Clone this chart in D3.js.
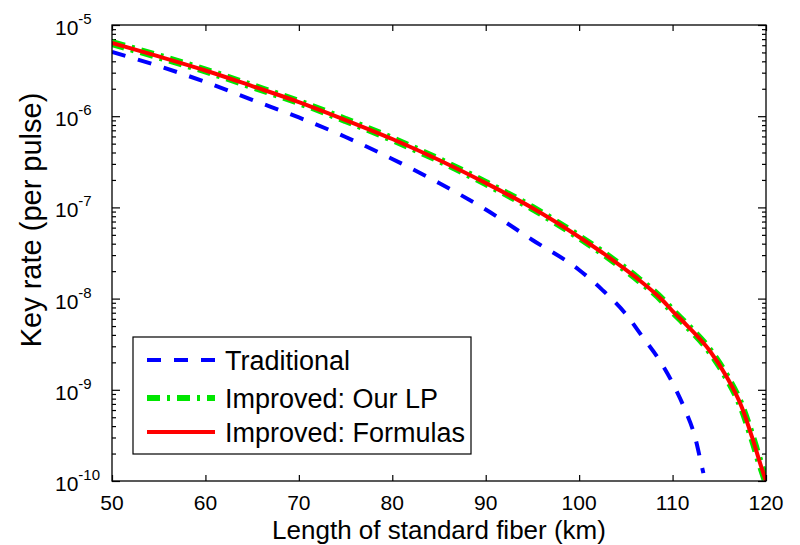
<!DOCTYPE html>
<html><head><meta charset="utf-8">
<script src="https://cdn.jsdelivr.net/npm/d3@7"></script>
<style>body{margin:0;background:#fff}svg{display:block}</style>
</head><body><svg id="c" width="800" height="545"></svg>
<script>
// ---- data ----
const xTicks = [50, 60, 70, 80, 90, 100, 110, 120];
const yExponents = [-5, -6, -7, -8, -9, -10];
const traditionalKm = [50, 55, 60, 65, 70, 75, 80, 85, 90, 95, 100, 102.5, 104.9, 106.8, 108.65, 110.05, 111.3, 112.4, 113.15, 113.3];
const traditionalRate = [5.06e-6, 3.55e-6, 2.37e-6, 1.51e-6, 9.68e-7, 5.92e-7, 3.40e-7, 1.85e-7, 9.48e-8, 4.39e-8, 2.06e-8, 1.24e-8, 6.95e-9, 3.79e-9, 2.07e-9, 1.16e-9, 6.16e-10, 3.04e-10, 1.42e-10, 1.22e-10];
const improvedKm = [50, 55, 60, 65, 70, 75, 80, 85, 90, 95, 100, 103, 106, 109, 110, 111.5, 114, 115.8, 117.4, 118.5, 119.5, 120];
const lpRate = [6.35e-6, 4.52e-6, 3.17e-6, 2.14e-6, 1.43e-6, 9.08e-7, 5.62e-7, 3.31e-7, 1.85e-7, 9.85e-8, 4.74e-8, 2.93e-8, 1.73e-8, 9.41e-9, 7.31e-9, 5.13e-9, 2.66e-9, 1.38e-9, 6.48e-10, 3.04e-10, 1.42e-10, 1.0e-10];
const formulaRate = [6.35e-6, 4.52e-6, 3.17e-6, 2.14e-6, 1.43e-6, 9.08e-7, 5.62e-7, 3.31e-7, 1.85e-7, 9.85e-8, 4.74e-8, 2.93e-8, 1.73e-8, 9.41e-9, 7.31e-9, 5.13e-9, 2.66e-9, 1.38e-9, 6.48e-10, 3.04e-10, 1.42e-10, 1.0e-10];
const legendLabels = ["Traditional", "Improved: Our LP", "Improved: Formulas"];
const xTitle = "Length of standard fiber (km)";
const yTitle = "Key rate (per pulse)";

// ---- layout ----
const L = 112, R = 766, T = 25, B = 481;
const FONT = "'Liberation Sans', Arial, Helvetica, sans-serif";
const svg = d3.select("#c");
svg.append("rect").attr("width", 800).attr("height", 545).attr("fill", "#fff");

const x = d3.scaleLinear().domain([50, 120]).range([L, R]);
const y = d3.scaleLog().domain([1e-10, 1e-5]).range([B, T]);

const majorY = yExponents.map(e => Math.pow(10, e));
const minorY = [];
for (let e = -10; e < -5; e++) for (let k = 2; k <= 9; k++) minorY.push(k * Math.pow(10, e));

function styleAxis(g) {
  g.select(".domain").remove();
  g.selectAll(".tick line").attr("stroke", "#000").attr("stroke-width", 1.2);
  g.selectAll(".tick text").remove();
}

// ticks via d3 axes (inward)
svg.append("g").attr("transform", `translate(0,${B})`)
  .call(d3.axisBottom(x).tickValues(xTicks).tickSizeInner(-6).tickSizeOuter(0)).call(styleAxis);
svg.append("g").attr("transform", `translate(0,${T})`)
  .call(d3.axisTop(x).tickValues(xTicks).tickSizeInner(-6).tickSizeOuter(0)).call(styleAxis);
svg.append("g").attr("transform", `translate(${L},0)`)
  .call(d3.axisLeft(y).tickValues(majorY).tickSizeInner(-8).tickSizeOuter(0)).call(styleAxis);
svg.append("g").attr("transform", `translate(${L},0)`)
  .call(d3.axisLeft(y).tickValues(minorY).tickSizeInner(-4).tickSizeOuter(0)).call(styleAxis);
svg.append("g").attr("transform", `translate(${R},0)`)
  .call(d3.axisRight(y).tickValues(majorY).tickSizeInner(-8).tickSizeOuter(0)).call(styleAxis);
svg.append("g").attr("transform", `translate(${R},0)`)
  .call(d3.axisRight(y).tickValues(minorY).tickSizeInner(-4).tickSizeOuter(0)).call(styleAxis);

// x tick labels
svg.append("g").selectAll("text").data(xTicks).join("text")
  .attr("x", d => x(d)).attr("y", 510)
  .attr("text-anchor", "middle").attr("font-family", FONT).attr("font-size", 21).attr("fill", "#000")
  .text(d => d);

// y tick labels 10^e
const yl = svg.append("g").selectAll("text").data(yExponents).join("text")
  .attr("x", 55).attr("y", d => y(Math.pow(10, d)) + 10)
  .attr("font-family", FONT).attr("font-size", 21).attr("fill", "#000");
yl.append("tspan").text("10");
yl.append("tspan").attr("dy", -11).attr("font-size", 15).text(d => "-" + Math.abs(d));

// titles
svg.append("text").attr("x", (L + R) / 2).attr("y", 539).attr("text-anchor", "middle")
  .attr("font-family", FONT).attr("font-size", 26).attr("fill", "#000").text(xTitle);
svg.append("text").attr("transform", "translate(41,220) rotate(-90)").attr("text-anchor", "middle")
  .attr("font-family", FONT).attr("font-size", 29).attr("fill", "#000").text(yTitle);

// clip
svg.append("clipPath").attr("id", "clip").append("rect")
  .attr("x", L).attr("y", T).attr("width", R - L).attr("height", B - T);

const line = d3.line().x(d => x(d[0])).y(d => y(d[1])).curve(d3.curveMonotoneX);
const plot = svg.append("g").attr("clip-path", "url(#clip)");

const series = [
  {km: traditionalKm, v: traditionalRate, color: "#0000ff", w: 4, dash: "14,13"},
  {km: improvedKm, v: lpRate, color: "#00e600", w: 8, dash: "13,7,3,7"},
  {km: improvedKm, v: formulaRate, color: "#ff0000", w: 4, dash: null}
];
series.forEach(s => {
  plot.append("path").datum(s.km.map((k, i) => [k, s.v[i]]))
    .attr("d", line).attr("fill", "none").attr("stroke", s.color)
    .attr("stroke-width", s.w).attr("stroke-dasharray", s.dash);
});

// box
svg.append("rect").attr("x", L).attr("y", T).attr("width", R - L).attr("height", B - T)
  .attr("fill", "none").attr("stroke", "#000").attr("stroke-width", 1.3);

// legend
const lg = svg.append("g");
lg.append("rect").attr("x", 133).attr("y", 337).attr("width", 338).attr("height", 117)
  .attr("fill", "#fff").attr("stroke", "#000").attr("stroke-width", 1.2);
const rowsY = [360, 398, 432];
series.forEach((s, i) => {
  lg.append("line").attr("x1", 147).attr("x2", 215).attr("y1", rowsY[i]).attr("y2", rowsY[i])
    .attr("stroke", s.color).attr("stroke-width", s.w === 8 ? 6 : 4).attr("stroke-dasharray", s.dash);
  lg.append("text").attr("x", 225).attr("y", rowsY[i] + 9.5)
    .attr("font-family", FONT).attr("font-size", 27).attr("fill", "#000").text(legendLabels[i]);
});
</script></body></html>
